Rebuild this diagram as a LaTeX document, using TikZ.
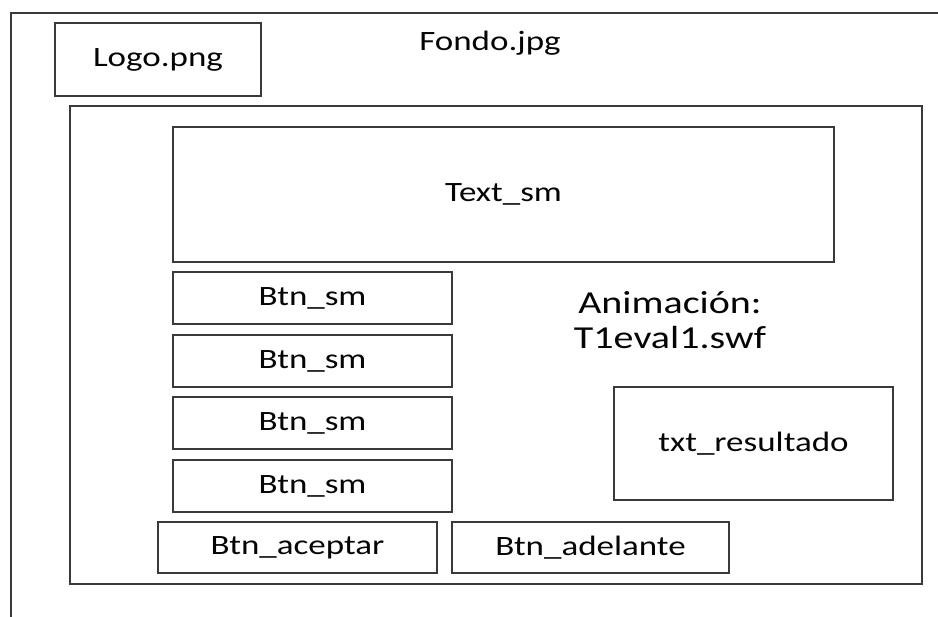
\documentclass[tikz,border=0pt]{standalone}
\usepackage{fontspec}
\setmainfont{Carlito}[FakeStretch=1.25]
\usepackage{tikz}
\definecolor{MockLine}{HTML}{3A3A3A}
\definecolor{MockText}{HTML}{050505}

\begin{document}
\begin{tikzpicture}[x=1pt,y=-1pt,
    caja/.style={draw=MockLine,line width=1.3pt,inner sep=0pt,outer sep=0pt,
      text=MockText,font=\fontsize{28}{30}\selectfont},
    btnbox/.style={caja,minimum width=279pt,minimum height=52pt}]
  \useasboundingbox (0,0) rectangle (938,617);
  % fondo
  \draw[MockLine,line width=1.3pt] (938,13) -- (11,13) -- (11,617);
  \node[text=MockText,font=\fontsize{28}{30}\selectfont] (fondo) at (490,43) {Fondo.jpg};
  \node[caja,minimum width=206pt,minimum height=73pt] (logo) at (158,59.5) {Logo.png};
  % panel
  \node[caja,minimum width=852pt,minimum height=478pt] (panel) at (496,345) {};
  \node[caja,minimum width=661pt,minimum height=135pt] (textsm) at (503.5,194.5) {Text\_sm};
  \foreach \y [count=\i] in {298,361,423,486}
    \node[btnbox] (btn\i) at (312.5,\y) {Btn\_sm};
  \node[btnbox,minimum height=51pt] (aceptar) at (297.5,547.5) {Btn\_aceptar};
  \node[btnbox,minimum width=277pt,minimum height=51pt] (adelante) at (590.5,547.5) {Btn\_adelante};
  \node[caja,minimum width=279pt,minimum height=113pt] (resultado) at (753.5,443.5) {txt\_resultado};
  \node[text=MockText,align=center,font=\fontsize{32}{35}\selectfont] (anim) at (670,320) {Animación:\\T1eval1.swf};
\end{tikzpicture}
\end{document}
